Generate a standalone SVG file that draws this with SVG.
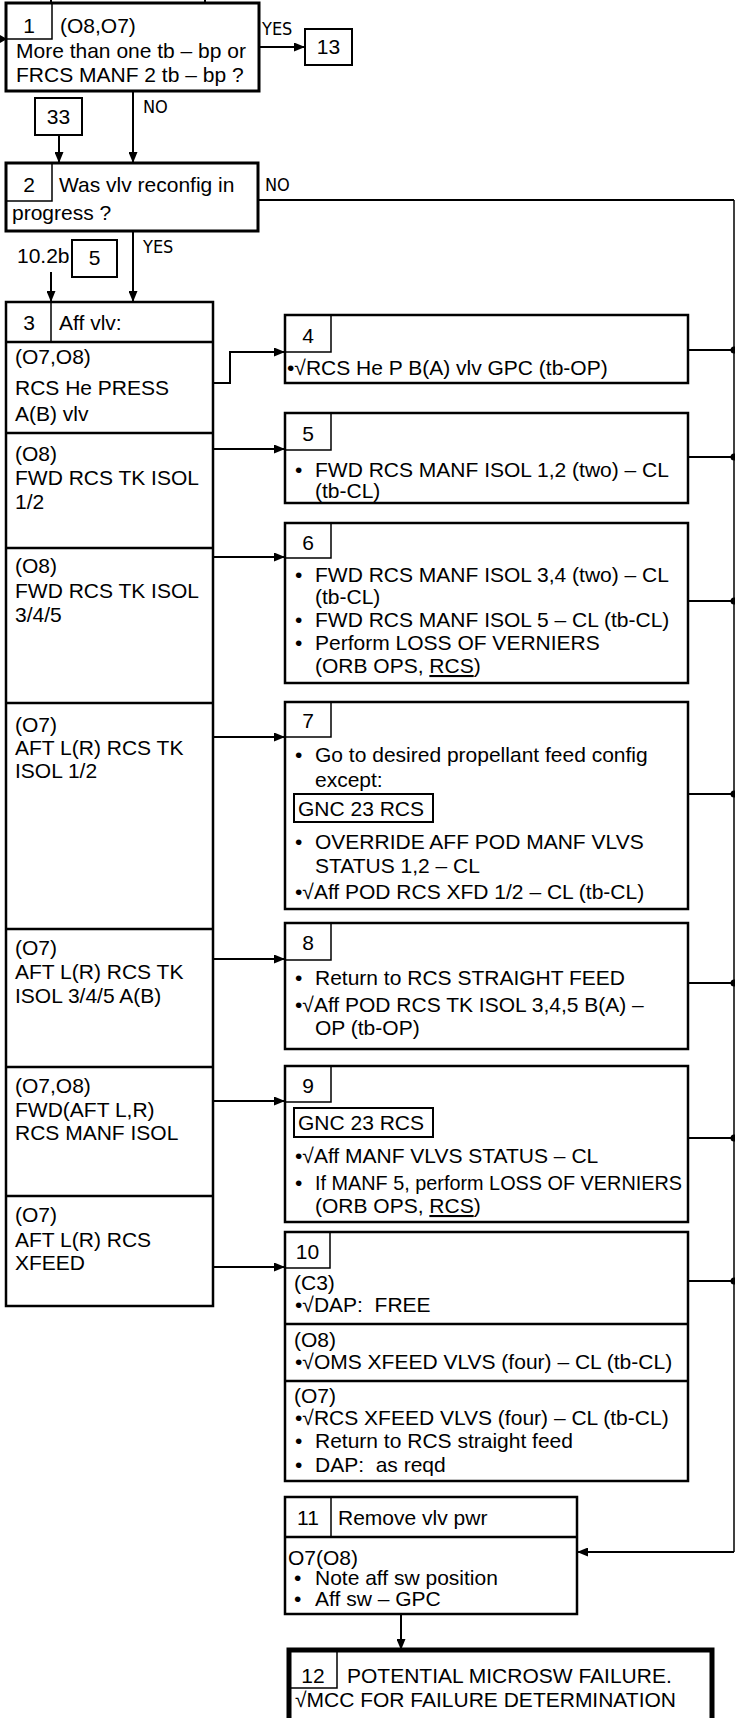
<svg xmlns="http://www.w3.org/2000/svg" width="735" height="1718" viewBox="0 0 735 1718">
<style>
.t{font-family:"Liberation Sans",Arial,sans-serif;font-size:21px;fill:#000;white-space:pre}
.c{text-anchor:middle}
.lbl{font-family:"DejaVu Sans Condensed","DejaVu Sans",sans-serif;font-stretch:condensed;font-size:18px;fill:#000}
.box{fill:#fff;stroke:#000;stroke-width:2.5}
.thin{fill:none;stroke:#000;stroke-width:1.5}
.div{fill:none;stroke:#000;stroke-width:2.5}
.conn{fill:none;stroke:#000;stroke-width:2}
.bus{fill:none;stroke:#000;stroke-width:1.5}
.u{text-decoration:underline}
</style>
<defs>
<marker id="ah" markerUnits="userSpaceOnUse" markerWidth="11" markerHeight="9" refX="11" refY="4.5" orient="auto">
<path d="M0,0 L11,4.5 L0,9 z" fill="#000"/>
</marker>
</defs>
<rect width="735" height="1718" fill="#fff"/>

<g id="connectors">
<line class="conn" x1="51" y1="0" x2="51" y2="4"/>
<line class="conn" x1="205" y1="0" x2="205" y2="3"/>
<polygon points="0,35 7,39 0,43" fill="#000"/>
<line class="conn" x1="259" y1="47" x2="305" y2="47" marker-end="url(#ah)"/>
<line class="conn" x1="133" y1="91" x2="133" y2="163" marker-end="url(#ah)"/>
<line class="conn" x1="59" y1="135" x2="59" y2="163" marker-end="url(#ah)"/>
<line class="conn" x1="258" y1="200" x2="734" y2="200"/>
<line class="conn" x1="133" y1="231" x2="133" y2="302" marker-end="url(#ah)"/>
<line class="conn" x1="51" y1="272" x2="51" y2="302" marker-end="url(#ah)"/>
<polyline class="conn" points="213,383 230,383 230,352 285,352" marker-end="url(#ah)"/>
<line class="conn" x1="213" y1="449" x2="285" y2="449" marker-end="url(#ah)"/>
<line class="conn" x1="213" y1="557" x2="285" y2="557" marker-end="url(#ah)"/>
<line class="conn" x1="213" y1="737" x2="285" y2="737" marker-end="url(#ah)"/>
<line class="conn" x1="213" y1="959" x2="285" y2="959" marker-end="url(#ah)"/>
<line class="conn" x1="213" y1="1101" x2="285" y2="1101" marker-end="url(#ah)"/>
<line class="conn" x1="213" y1="1267" x2="285" y2="1267" marker-end="url(#ah)"/>
<line class="bus" x1="734" y1="200" x2="734" y2="1552"/>
<line class="conn" x1="688" y1="350" x2="734" y2="350"/>
<line class="conn" x1="688" y1="457" x2="734" y2="457"/>
<line class="conn" x1="688" y1="601" x2="734" y2="601"/>
<line class="conn" x1="688" y1="794" x2="734" y2="794"/>
<line class="conn" x1="688" y1="983" x2="734" y2="983"/>
<line class="conn" x1="688" y1="1138" x2="734" y2="1138"/>
<line class="conn" x1="688" y1="1281" x2="734" y2="1281"/>
<g fill="#000">
<circle cx="734" cy="350" r="3.5"/>
<circle cx="734" cy="457" r="3.5"/>
<circle cx="734" cy="601" r="3.5"/>
<circle cx="734" cy="794" r="3.5"/>
<circle cx="734" cy="983" r="3.5"/>
<circle cx="734" cy="1138" r="3.5"/>
<circle cx="734" cy="1281" r="3.5"/>
</g>
<line class="conn" x1="734" y1="1552" x2="577" y2="1552" marker-end="url(#ah)"/>
<line class="conn" x1="401" y1="1614" x2="401" y2="1650" marker-end="url(#ah)"/>
<text class="lbl" x="262" y="35">YES</text>
<text class="lbl" x="143" y="113">NO</text>
<text class="lbl" x="265" y="191">NO</text>
<text class="lbl" x="143" y="253">YES</text>
<text class="t" x="17" y="263">10.2b</text>
</g>

<g id="n1">
<rect class="box" x="6" y="3" width="253" height="88" style="stroke-width:3"/>
<polyline class="thin" points="6,39 52,39 52,3"/>
<text class="t c" x="29" y="33">1</text>
<text class="t" x="60" y="33">(O8,O7)</text>
<text class="t" x="16" y="58">More than one tb – bp or</text>
<text class="t" x="16" y="82">FRCS MANF 2 tb – bp ?</text>
</g>

<g id="n13">
<rect class="box" x="305" y="29" width="47" height="36" style="stroke-width:2"/>
<text class="t c" x="328.5" y="54">13</text>
</g>

<g id="n33">
<rect class="box" x="35" y="98" width="47" height="37" style="stroke-width:2"/>
<text class="t c" x="58.5" y="124">33</text>
</g>

<g id="n2">
<rect class="box" x="6" y="163" width="252" height="68" style="stroke-width:3"/>
<polyline class="thin" points="6,201 52,201 52,163"/>
<text class="t c" x="29" y="192">2</text>
<text class="t" x="59" y="192">Was vlv reconfig in</text>
<text class="t" x="12" y="220">progress ?</text>
</g>

<g id="n5ref">
<rect class="box" x="72" y="240" width="45" height="37" style="stroke-width:2"/>
<text class="t c" x="94.5" y="265">5</text>
</g>

<g id="n3">
<rect class="box" x="6" y="302" width="207" height="1004"/>
<line class="thin" x1="51" y1="302" x2="51" y2="342"/>
<line class="div" x1="6" y1="342" x2="213" y2="342"/>
<line class="div" x1="6" y1="433" x2="213" y2="433"/>
<line class="div" x1="6" y1="548" x2="213" y2="548"/>
<line class="div" x1="6" y1="703" x2="213" y2="703"/>
<line class="div" x1="6" y1="929" x2="213" y2="929"/>
<line class="div" x1="6" y1="1067" x2="213" y2="1067"/>
<line class="div" x1="6" y1="1196" x2="213" y2="1196"/>
<text class="t c" x="29" y="330">3</text>
<text class="t" x="59" y="330">Aff vlv:</text>
<text class="t" x="15" y="364">(O7,O8)</text>
<text class="t" x="15" y="395">RCS He PRESS</text>
<text class="t" x="15" y="421">A(B) vlv</text>
<text class="t" x="15" y="461">(O8)</text>
<text class="t" x="15" y="485">FWD RCS TK ISOL</text>
<text class="t" x="15" y="509">1/2</text>
<text class="t" x="15" y="573">(O8)</text>
<text class="t" x="15" y="598">FWD RCS TK ISOL</text>
<text class="t" x="15" y="622">3/4/5</text>
<text class="t" x="15" y="732">(O7)</text>
<text class="t" x="15" y="755">AFT L(R) RCS TK</text>
<text class="t" x="15" y="778">ISOL 1/2</text>
<text class="t" x="15" y="955">(O7)</text>
<text class="t" x="15" y="979">AFT L(R) RCS TK</text>
<text class="t" x="15" y="1003">ISOL 3/4/5 A(B)</text>
<text class="t" x="15" y="1093">(O7,O8)</text>
<text class="t" x="15" y="1117">FWD(AFT L,R)</text>
<text class="t" x="15" y="1140">RCS MANF ISOL</text>
<text class="t" x="15" y="1222">(O7)</text>
<text class="t" x="15" y="1247">AFT L(R) RCS</text>
<text class="t" x="15" y="1270">XFEED</text>
</g>

<g id="n4">
<rect class="box" x="285" y="315" width="403" height="68"/>
<polyline class="thin" points="285,352 331,352 331,315"/>
<text class="t c" x="308" y="343">4</text>
<text class="t" x="287" y="375">•√RCS He P B(A) vlv GPC (tb-OP)</text>
</g>

<g id="n5">
<rect class="box" x="285" y="413" width="403" height="90"/>
<polyline class="thin" points="285,450 331,450 331,413"/>
<text class="t c" x="308" y="441">5</text>
<text class="t" x="295" y="477">•</text>
<text class="t" x="315" y="477">FWD RCS MANF ISOL 1,2 (two) – CL</text>
<text class="t" x="315" y="498">(tb-CL)</text>
</g>

<g id="n6">
<rect class="box" x="285" y="523" width="403" height="160"/>
<polyline class="thin" points="285,558 331,558 331,523"/>
<text class="t c" x="308" y="550">6</text>
<text class="t" x="295" y="582">•</text>
<text class="t" x="315" y="582">FWD RCS MANF ISOL 3,4 (two) – CL</text>
<text class="t" x="315" y="604">(tb-CL)</text>
<text class="t" x="295" y="627">•</text>
<text class="t" x="315" y="627">FWD RCS MANF ISOL 5 – CL (tb-CL)</text>
<text class="t" x="295" y="650">•</text>
<text class="t" x="315" y="650">Perform LOSS OF VERNIERS</text>
<text class="t" x="315" y="673">(ORB OPS, <tspan class="u">RCS</tspan>)</text>
</g>

<g id="n7">
<rect class="box" x="285" y="702" width="403" height="207"/>
<polyline class="thin" points="285,737 331,737 331,702"/>
<text class="t c" x="308" y="728">7</text>
<text class="t" x="295" y="762">•</text>
<text class="t" x="315" y="762">Go to desired propellant feed config</text>
<text class="t" x="315" y="787">except:</text>
<rect x="294" y="794" width="139" height="28" fill="#fff" stroke="#000" stroke-width="2"/>
<text class="t" x="298" y="816">GNC 23 RCS</text>
<text class="t" x="295" y="849">•</text>
<text class="t" x="315" y="849">OVERRIDE AFF POD MANF VLVS</text>
<text class="t" x="315" y="873">STATUS 1,2 – CL</text>
<text class="t" x="295" y="899">•√Aff POD RCS XFD 1/2 – CL (tb-CL)</text>
</g>

<g id="n8">
<rect class="box" x="285" y="923" width="403" height="126"/>
<polyline class="thin" points="285,960 331,960 331,923"/>
<text class="t c" x="308" y="950">8</text>
<text class="t" x="295" y="985">•</text>
<text class="t" x="315" y="985">Return to RCS STRAIGHT FEED</text>
<text class="t" x="295" y="1012">•√Aff POD RCS TK ISOL 3,4,5 B(A) –</text>
<text class="t" x="315" y="1035">OP (tb-OP)</text>
</g>

<g id="n9">
<rect class="box" x="285" y="1066" width="403" height="156"/>
<polyline class="thin" points="285,1102 331,1102 331,1066"/>
<text class="t c" x="308" y="1093">9</text>
<rect x="294" y="1108" width="139" height="29" fill="#fff" stroke="#000" stroke-width="2"/>
<text class="t" x="298" y="1130">GNC 23 RCS</text>
<text class="t" x="295" y="1163">•√Aff MANF VLVS STATUS – CL</text>
<text class="t" x="295" y="1190">•</text>
<text class="t" x="315" y="1190" textLength="367" lengthAdjust="spacingAndGlyphs">If MANF 5, perform LOSS OF VERNIERS</text>
<text class="t" x="315" y="1213">(ORB OPS, <tspan class="u">RCS</tspan>)</text>
</g>

<g id="n10">
<rect class="box" x="285" y="1232" width="403" height="249"/>
<polyline class="thin" points="285,1268 330,1268 330,1232"/>
<line class="div" x1="285" y1="1324" x2="688" y2="1324"/>
<line class="div" x1="285" y1="1381" x2="688" y2="1381"/>
<text class="t c" x="307.5" y="1259">10</text>
<text class="t" x="294" y="1290">(C3)</text>
<text class="t" x="295" y="1312">•√DAP:  FREE</text>
<text class="t" x="294" y="1347">(O8)</text>
<text class="t" x="295" y="1369">•√OMS XFEED VLVS (four) – CL (tb-CL)</text>
<text class="t" x="294" y="1403">(O7)</text>
<text class="t" x="295" y="1425">•√RCS XFEED VLVS (four) – CL (tb-CL)</text>
<text class="t" x="295" y="1448">•</text>
<text class="t" x="315" y="1448">Return to RCS straight feed</text>
<text class="t" x="295" y="1472">•</text>
<text class="t" x="315" y="1472">DAP:  as reqd</text>
</g>

<g id="n11">
<rect class="box" x="285" y="1497" width="292" height="117"/>
<line class="div" x1="285" y1="1537" x2="577" y2="1537"/>
<line class="thin" x1="331" y1="1497" x2="331" y2="1537"/>
<text class="t c" x="308" y="1525">11</text>
<text class="t" x="338" y="1525">Remove vlv pwr</text>
<text class="t" x="288" y="1565">O7(O8)</text>
<text class="t" x="294" y="1585">•</text>
<text class="t" x="315" y="1585">Note aff sw position</text>
<text class="t" x="294" y="1606">•</text>
<text class="t" x="315" y="1606">Aff sw – GPC</text>
</g>

<g id="n12">
<rect class="box" x="289" y="1650" width="423" height="80" style="stroke-width:5"/>
<polyline class="thin" points="289,1688 337,1688 337,1650"/>
<text class="t c" x="313" y="1683">12</text>
<text class="t" x="347" y="1683">POTENTIAL MICROSW FAILURE.</text>
<text class="t" x="295" y="1707">√MCC FOR FAILURE DETERMINATION</text>
</g>
</svg>
